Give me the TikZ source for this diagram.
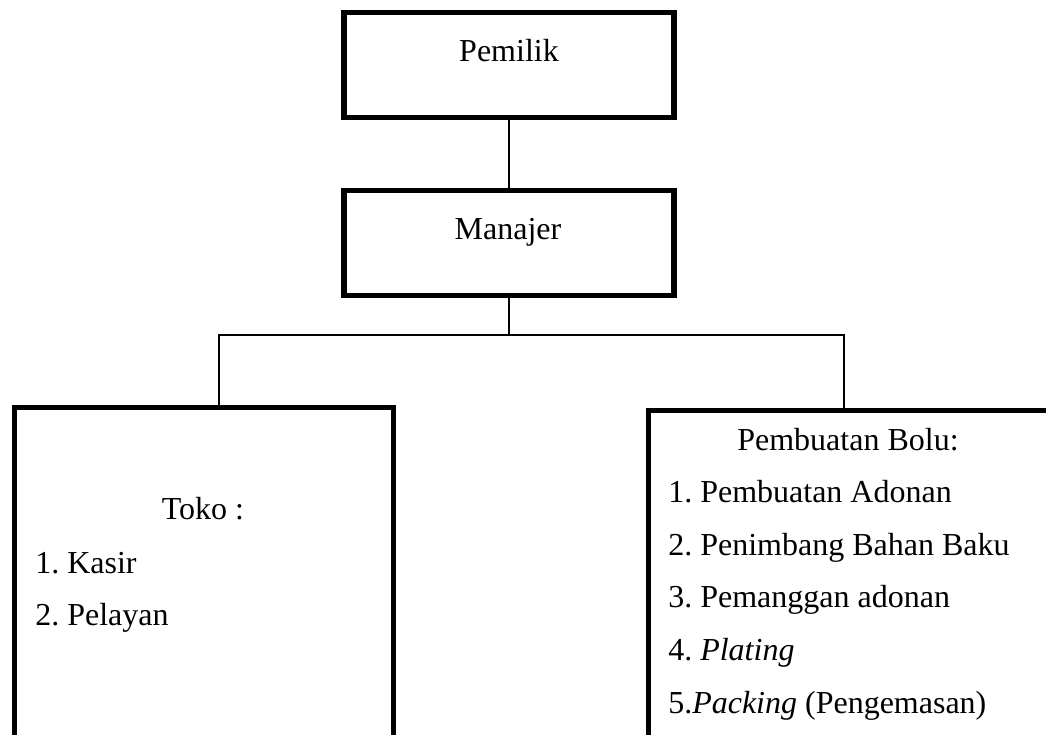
\documentclass[tikz,border=0pt]{standalone}
\usepackage{fontspec}
\setmainfont{Liberation Serif}
\frenchspacing
\begin{document}
\begin{tikzpicture}[x=0.75pt,y=-0.75pt,
  box/.style={draw=black,line width=4pt,rectangle,inner sep=0pt,fill=white},
  conn/.style={draw=black,line width=1.1pt},
  lbl/.style={inner sep=0pt,font=\fontsize{24}{28}\selectfont}]
\useasboundingbox (0,0) rectangle (1046,735);
\fill[white] (0,0) rectangle (1046,735);
% connectors
\coordinate (j) at (509,335);
\coordinate (cl) at (219,406);
\coordinate (cr) at (844,409);
\begin{scope}
\clip (0,0) rectangle (1046,735);
\node[box,minimum width=330*0.75pt,minimum height=105*0.75pt] (pem) at (509,65) {};
\node[box,minimum width=330*0.75pt,minimum height=105*0.75pt] (man) at (509,243) {};
\draw[conn] (pem.south) -- (man.north);
\draw[conn] (man.south) -- (j);
\draw[conn] (j) -| (cl);
\draw[conn] (j) -| (cr);
\node[box,anchor=north west,minimum width=379*0.75pt,minimum height=400*0.75pt] (toko) at (11.5,404.5) {};
\node[box,anchor=north west,minimum width=430*0.75pt,minimum height=400*0.75pt] (bolu) at (645.5,407.5) {};
\end{scope}
% texts
\node[lbl,anchor=base] (tpem) at (509,62) {Pemilik};
\node[lbl,anchor=base] (tman) at (508,239) {Manajer};
\node[lbl,anchor=base] (ttoko) at (203,519) {Toko :};
\node[lbl,anchor=base west] (tk1) at (35,573) {1. Kasir};
\node[lbl,anchor=base west] (tk2) at (35,625.5) {2. Pelayan};
\node[lbl,anchor=base] (tbolu) at (848,450) {Pembuatan Bolu:};
\node[lbl,anchor=base west] (tb1) at (668,502) {1. Pembuatan Adonan};
\node[lbl,anchor=base west] (tb2) at (668,555) {2. Penimbang Bahan Baku};
\node[lbl,anchor=base west] (tb3) at (668,607.5) {3. Pemanggan adonan};
\node[lbl,anchor=base west] (tb4) at (668,660.5) {4. \textit{Plating}};
\node[lbl,anchor=base west] (tb5) at (668,713) {5.\textit{Packing} (Pengemasan)};
\end{tikzpicture}
\end{document}
